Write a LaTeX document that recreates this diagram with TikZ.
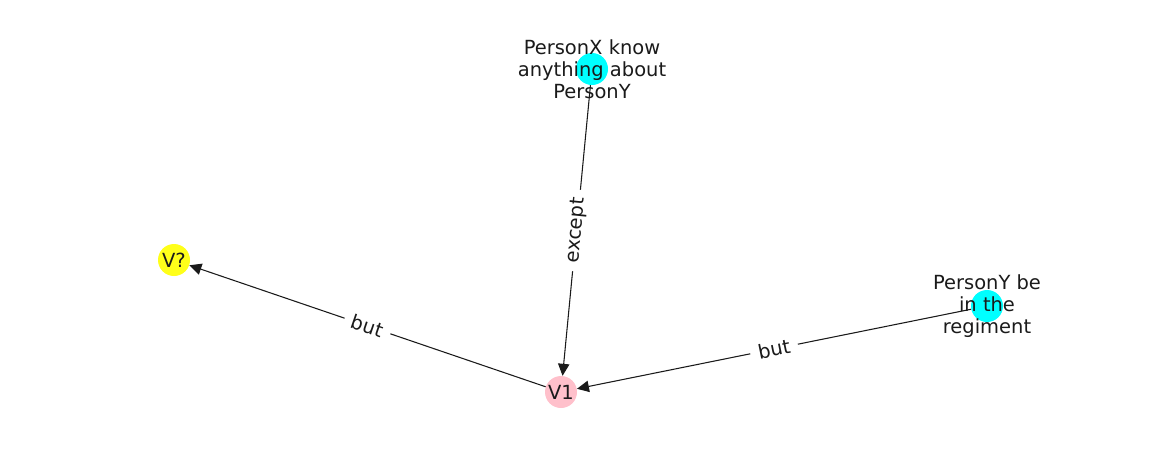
\documentclass[tikz,border=0pt]{standalone}
\usepackage{fontspec}
\setmainfont{DejaVu Sans}
\usetikzlibrary{arrows.meta}
\definecolor{nyellow}{HTML}{FFFF1A}
\definecolor{ncyan}{HTML}{00FFFF}
\definecolor{npink}{HTML}{FFC0CB}
\definecolor{txt}{HTML}{1A1A1A}
\begin{document}
\begin{tikzpicture}[x=0.75pt,y=-0.75pt,
  dot/.style={circle,inner sep=0pt,minimum size=24pt},
  lbl/.style={align=center,text=txt,inner sep=0pt,font=\fontsize{14.6}{16.5}\selectfont},
  edge/.style={draw=txt,line width=0.8pt,-{Triangle[length=9pt,width=8.5pt]}},
  elab/.style={fill=white,sloped,inner xsep=6pt,inner ysep=2pt,text=txt,font=\fontsize{14.6}{16.5}\selectfont}]
\useasboundingbox (0,0) rectangle (1162,462);
\node[dot,fill=nyellow] (vq) at (174,260) {};
\node[dot,fill=npink] (v1) at (561,392) {};
\node[dot,fill=ncyan] (px) at (592,69) {};
\node[dot,fill=ncyan] (py) at (987,306) {};
\draw[edge] (v1) -- node[elab]{but} (vq);
\draw[edge] (px) -- node[elab]{except} (v1);
\draw[edge] (py) -- node[elab]{but} (v1);
\node[lbl] at (vq) {V?};
\node[lbl] at (v1) {V1};
\node[lbl] at (px) {PersonX know\\anything about\\PersonY};
\node[lbl] at (py) {PersonY be\\in the\\regiment};
\end{tikzpicture}
\end{document}
